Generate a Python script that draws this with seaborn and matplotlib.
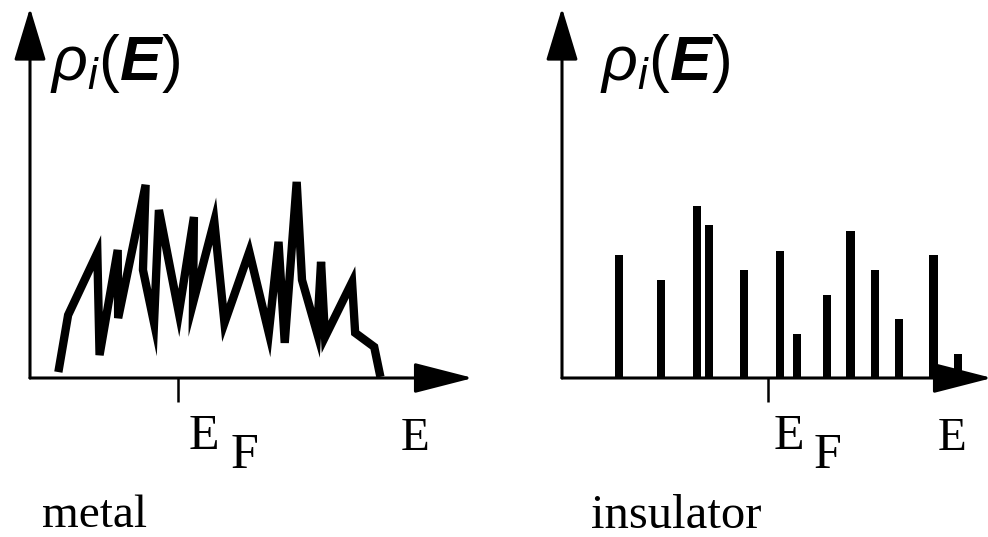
import matplotlib
matplotlib.use("Agg")
import matplotlib.pyplot as plt
from matplotlib.patches import ArrowStyle
import numpy as np
import seaborn as sns

# ---- data (arbitrary units) ----
metal_E = [0.64, 0.86, 1.52, 1.57, 1.98, 1.99, 2.61, 2.55, 2.80, 2.91, 3.36, 3.70, 3.68,
           4.16, 4.39, 4.95, 5.39, 5.61, 5.75, 6.02, 6.14, 6.48, 6.57, 6.66, 7.27, 7.34,
           7.77, 7.91]
metal_rho = [0.16, 1.70, 3.38, 0.62, 3.46, 1.62, 5.22, 2.92, 1.49, 4.54, 1.76, 4.35, 2.03,
             4.24, 1.49, 3.41, 1.22, 3.68, 0.95, 5.30, 2.65, 1.22, 3.14, 1.11, 2.59, 1.22,
             0.84, 0.03]
insulator_E = [1.33, 2.31, 3.13, 3.41, 4.23, 5.07, 5.47, 6.17, 6.71, 7.27, 7.83, 8.64, 9.21]
insulator_rho = [3.32, 2.65, 4.65, 4.14, 2.92, 3.43, 1.19, 2.24, 3.97, 2.92, 1.59, 3.32, 0.65]
EF_metal = 3.34
EF_insulator = 4.79
panel_titles = ["metal", "insulator"]
ylabel = r"$\rho_i(\mathbf{E})$"

sns.set_style("white")
plt.rcParams["font.family"] = ["Liberation Serif", "DejaVu Serif"]
plt.rcParams["text.color"] = "black"
plt.rcParams["mathtext.fontset"] = "custom"
plt.rcParams["mathtext.rm"] = "Liberation Sans"
plt.rcParams["mathtext.it"] = "Liberation Sans:italic"
plt.rcParams["mathtext.bf"] = "Liberation Sans:bold:italic"

W, H = 988, 537
fig = plt.figure(figsize=(W / 100, H / 100), dpi=100)


def box(x0, x1, ytop, ybot):
    return [x0 / W, 1 - ybot / H, (x1 - x0) / W, (ybot - ytop) / H]


ax1 = fig.add_axes(box(30, 473, 8, 378))
ax2 = fig.add_axes(box(562, 992, 8, 378))

# metal: continuous jagged DOS
sns.lineplot(x=metal_E, y=metal_rho, ax=ax1, sort=False, estimator=None,
             color="black", linewidth=6.0)
for line in ax1.lines:
    line.set_solid_joinstyle("miter")
    line.set_solid_capstyle("butt")

# insulator: discrete levels
min_gap = np.min(np.diff(np.unique(insulator_E)))
sns.barplot(x=insulator_E, y=insulator_rho, ax=ax2, native_scale=True, orient="x",
            color="black", saturation=1, errorbar=None, width=0.19 / min_gap,
            linewidth=0)

y_arrow = ArrowStyle("-|>", head_length=3.3, head_width=1.0)
x_arrow = ArrowStyle("-|>", head_length=3.7, head_width=0.95)
for ax, EF in [(ax1, EF_metal), (ax2, EF_insulator)]:
    ax.set_xlim(0, 10)
    ax.set_ylim(0, 10)
    for s in ax.spines.values():
        s.set_visible(False)
    ax.set_yticks([])
    ax.set_xticks([EF])
    ax.tick_params(axis="x", length=17, width=1.8, direction="out", color="black",
                   labelbottom=False, bottom=True)
    ax.set_xlabel("")
    ax.set_ylabel("")
    ax.patch.set_alpha(0)
    ax.annotate("", xy=(0, 1.0), xytext=(0, 0), xycoords="axes fraction",
                arrowprops=dict(arrowstyle=y_arrow, color="black", lw=2.2, shrinkA=0,
                                shrinkB=0, mutation_scale=10),
                annotation_clip=False)
    ax.annotate("", xy=(1.0, 0), xytext=(0, 0), xycoords="axes fraction",
                arrowprops=dict(arrowstyle=x_arrow, color="black", lw=2.2, shrinkA=0,
                                shrinkB=0, mutation_scale=10),
                annotation_clip=False)


def t(x, y, s, **k):
    fig.text(x / W, 1 - y / H, s, va="baseline", ha="left", **k)


# labels
t(50, 80, ylabel, fontsize=45)
t(600, 80, ylabel, fontsize=45)
for xE, xF, xE2 in [(189, 231, 401), (774, 814, 938)]:
    t(xE, 449, "E", fontsize=36)
    t(xF, 468, "F", fontsize=36)
    t(xE2, 450, "E", fontsize=34)
t(42, 527, panel_titles[0], fontsize=34)
t(591, 528, panel_titles[1], fontsize=35)

fig.savefig("out.png", dpi=100)
